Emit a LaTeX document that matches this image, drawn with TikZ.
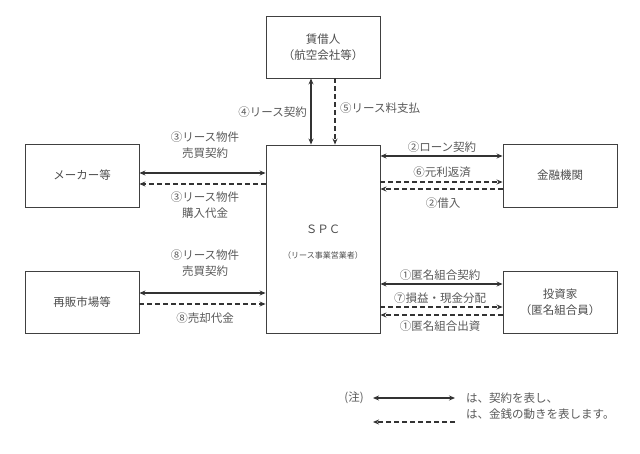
\documentclass[tikz,border=0pt]{standalone}
\usepackage{fontspec}
\setmainfont{Noto Sans CJK JP}
\usetikzlibrary{positioning,arrows.meta}

\tikzset{
  box/.style={draw=black!75, line width=0.9pt, minimum width=114pt, text=black!70, align=center, inner sep=0pt},
  contract/.style={draw=black!80, line width=1.2pt, {Stealth[length=6pt,width=5pt]}-{Stealth[length=6pt,width=5pt]}},
  money/.style={draw=black!80, line width=1.1pt, dash pattern=on 5pt off 3pt, -{Stealth[length=6pt,width=5pt]}},
  lbl/.style={text=black!65, align=center, inner sep=1pt}
}

\begin{document}
\begin{tikzpicture}[x=1pt, y=-1pt, font=\fontsize{11.5}{16}\selectfont]
  \useasboundingbox (0,0) rectangle (640,454);
  % boxes
  \node[box, minimum height=62pt] (lessor) at (323,47) {賃借人\\（航空会社等）};
  \node[box, minimum height=188pt] (spc) at (323,239) {};
  \node[text=black!70] (spcname) at (323,229) {ＳＰＣ};
  \node[text=black!70, font=\fontsize{8}{10}\selectfont] (spcsub) at (323,255) {（リース事業営業者）};
  \node[box, minimum height=63pt] (maker) at (82,175.5) {メーカー等};
  \node[box, minimum height=63pt] (bank) at (560,175.5) {金融機関};
  \node[box, minimum height=62pt] (resale) at (82,302) {再販市場等};
  \node[box, minimum height=62pt] (investor) at (560,302) {投資家\\（匿名組合員）};

  % lessor - SPC
  \draw[contract] (lessor.south -| 311,0) -- (spc.north -| 311,0);
  \draw[money] (lessor.south -| 335,0) -- (spc.north -| 335,0);
  \node[lbl, anchor=east] (l4) at (308,112) {④リース契約};
  \node[lbl, anchor=west] (l5) at (339,108) {⑤リース料支払};

  % maker - SPC
  \draw[contract] (maker.east |- 0,173) -- (spc.west |- 0,173);
  \draw[money] (spc.west |- 0,184) -- (maker.east |- 0,184);
  \node[lbl] (l3a) at (205,145) {③リース物件\\売買契約};
  \node[lbl] (l3b) at (205,205) {③リース物件\\購入代金};

  % SPC - bank
  \draw[contract] (spc.east |- 0,156) -- (bank.west |- 0,156);
  \draw[money] (spc.east |- 0,182) -- (bank.west |- 0,182);
  \draw[money] (bank.west |- 0,189) -- (spc.east |- 0,189);
  \node[lbl] (l2a) at (442,147) {②ローン契約};
  \node[lbl] (l6) at (442,172) {⑥元利返済};
  \node[lbl] (l2b) at (443,203) {②借入};

  % resale - SPC
  \draw[contract] (resale.east |- 0,293) -- (spc.west |- 0,293);
  \draw[money] (resale.east |- 0,304) -- (spc.west |- 0,304);
  \node[lbl] (l8a) at (205,263) {⑧リース物件\\売買契約};
  \node[lbl] (l8b) at (205,318) {⑧売却代金};

  % SPC - investor
  \draw[contract] (spc.east |- 0,284) -- (investor.west |- 0,284);
  \draw[money] (spc.east |- 0,307) -- (investor.west |- 0,307);
  \draw[money] (investor.west |- 0,315) -- (spc.east |- 0,315);
  \node[lbl] (l1a) at (440,275) {①匿名組合契約};
  \node[lbl] (l7) at (440,298) {⑦損益・現金分配};
  \node[lbl] (l1b) at (440,326) {①匿名組合出資};

  % legend
  \node[lbl] (note) at (354,398) {(注)};
  \coordinate (k1) at (373,398);
  \coordinate (k2) at (455,398);
  \coordinate (m1) at (373,422);
  \coordinate (m2) at (455,422);
  \draw[contract] (k1) -- (k2);
  \draw[money] (m2) -- (m1);
  \node[lbl, anchor=west] (t1) at (465,398) {は、契約を表し、};
  \node[lbl, anchor=west] (t2) at (465,414) {は、金銭の動きを表します。};
\end{tikzpicture}
\end{document}
